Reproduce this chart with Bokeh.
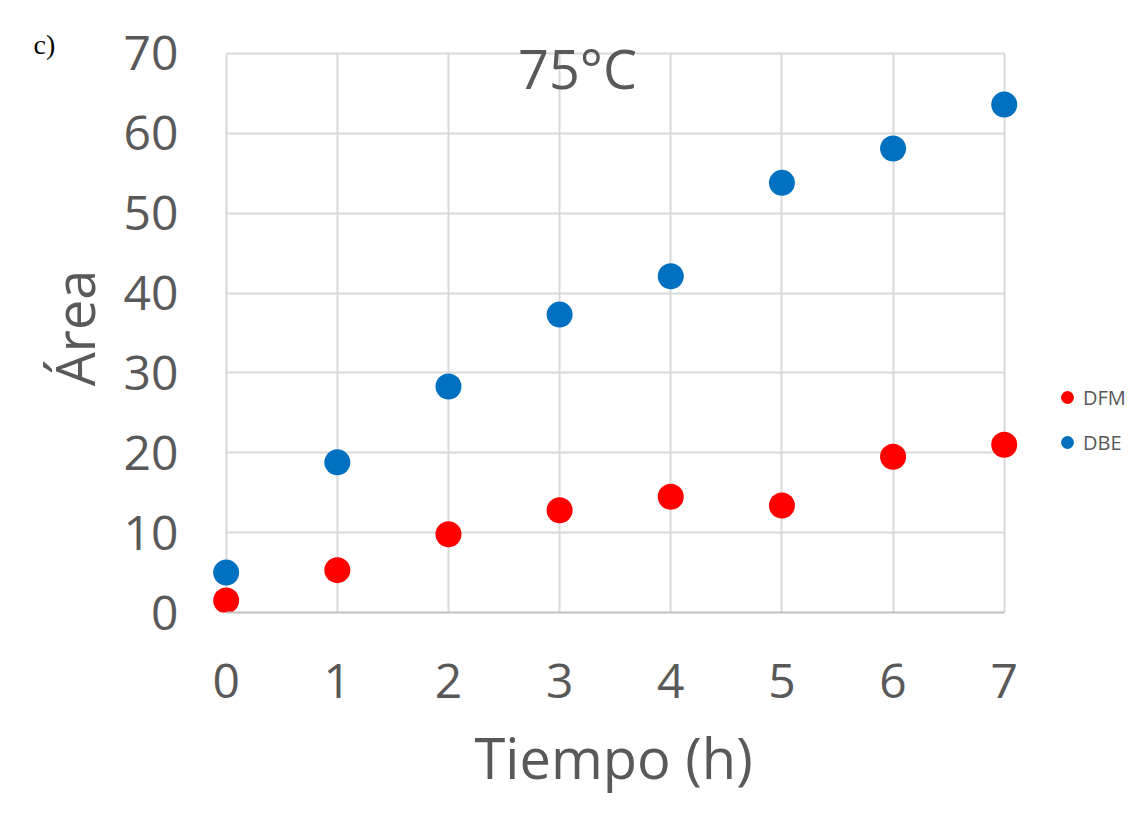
from bokeh.plotting import figure
from bokeh.models import Range1d, SingleIntervalTicker, Label, Legend, LegendItem, Title
from bokeh.embed import file_html
from bokeh.resources import INLINE

hours = [0, 1, 2, 3, 4, 5, 6, 7]
dfm = [1.5, 5.3, 9.8, 12.8, 14.5, 13.4, 19.5, 21.0]
dbe = [5.0, 18.8, 28.3, 37.3, 42.1, 53.8, 58.1, 63.6]

FONT = "Open Sans"
GREY = "#595959"

p = figure(width=1146, height=827, output_backend="svg", toolbar_location=None,
           x_range=Range1d(-0.15, 8.28), y_range=Range1d(0, 71.25),
           min_border_left=209, min_border_right=0, min_border_top=43, min_border_bottom=215)
p.outline_line_color = None
p.background_fill_color = "white"
p.border_fill_color = "white"

p.xaxis.ticker = SingleIntervalTicker(interval=1)
p.yaxis.ticker = SingleIntervalTicker(interval=10)
p.xaxis.bounds = (0, 7)
p.yaxis.bounds = (0, 70)
for ax in (p.xaxis, p.yaxis):
    ax.major_tick_line_color = None
    ax.minor_tick_line_color = None
    ax.major_label_text_font = FONT
    ax.major_label_text_font_size = "48px"
    ax.major_label_text_color = GREY
    ax.axis_label_text_font = FONT
    ax.axis_label_text_color = GREY
    ax.axis_label_text_font_style = "normal"
p.yaxis.axis_line_color = None
p.xaxis.axis_line_color = "#bfbfbf"
p.xaxis.axis_line_width = 2
p.yaxis.major_label_standoff = 25
p.xaxis.major_label_standoff = 45
p.yaxis.axis_label = "Área"
p.yaxis.axis_label_text_font_size = "54px"
p.yaxis.axis_label_standoff = 10

p.xgrid.grid_line_color = "#d9d9d9"
p.ygrid.grid_line_color = "#d9d9d9"
p.xgrid.grid_line_width = 2
p.ygrid.grid_line_width = 2
p.xgrid.bounds = (0, 7)
p.ygrid.bounds = (0, 70)
p.xgrid.cross_bounds = (0, 70)
p.ygrid.cross_bounds = (0, 7)

r_dfm = p.scatter(hours, dfm, size=26, color="#FF0000", line_color=None)
r_dbe = p.scatter(hours, dbe, size=26, color="#0070C0", line_color=None)

legend = Legend(items=[LegendItem(label="DFM", renderers=[r_dfm]),
                       LegendItem(label="DBE", renderers=[r_dbe])],
                location=(842, 154), orientation="vertical",
                glyph_width=32, glyph_height=32, label_height=32, spacing=13,
                label_standoff=0, padding=0, margin=0,
                border_line_color=None, background_fill_alpha=0,
                label_text_font=FONT, label_text_font_size="20px",
                label_text_color=GREY)
p.add_layout(legend, "center")

p.add_layout(Label(x=368, y=545, x_units="screen", y_units="screen", text="75°C",
                   text_font=FONT, text_font_size="54px", text_color=GREY,
                   text_align="center", text_baseline="alphabetic"))
p.add_layout(Title(text="c)", align="left", offset=-176, text_font="Liberation Serif",
                   text_font_size="28px", text_color="black", text_font_style="normal",
                   standoff=-32), "above")
p.add_layout(Title(text="Tiempo (h)", align="left", offset=265, text_font=FONT,
                   text_font_size="56px", text_color=GREY, text_font_style="normal",
                   standoff=32), "below")

open("out.html", "w").write(file_html(p, INLINE))
